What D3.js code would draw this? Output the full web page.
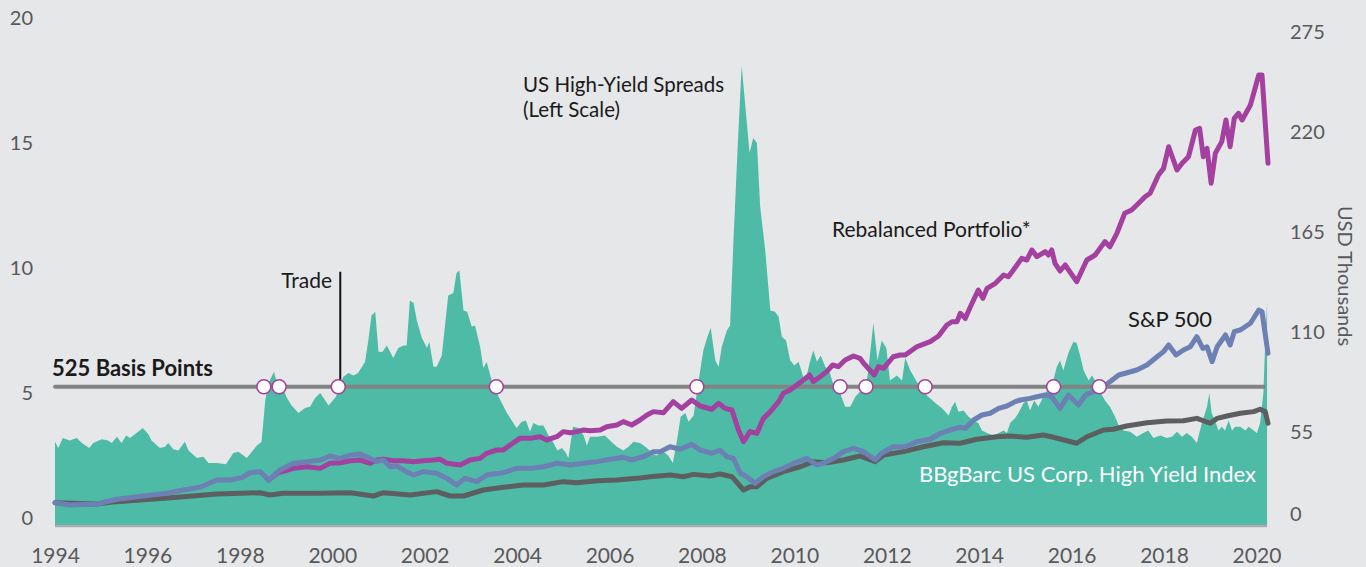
<!DOCTYPE html>
<html>
<head>
<meta charset="utf-8">
<script src="https://cdn.jsdelivr.net/npm/d3@7"></script>
<style>
  html, body { margin: 0; padding: 0; background: #e6e7e8; }
  svg { display: block; }
  text { font-family: Lato, "Open Sans", sans-serif; }
</style>
</head>
<body>
<svg id="chart" width="1366" height="567"></svg>
<script>
// ---- data ----
// US high-yield spreads, % (left scale) : [decimal year, value]
const spreads = [
  [1994.00,3.05],[1994.07,2.8],[1994.17,3.2],[1994.32,3.1],[1994.47,3.2],[1994.58,3.0],[1994.74,2.8],[1994.83,3.0],
  [1995.01,3.15],[1995.15,3.1],[1995.23,3.0],[1995.34,3.25],[1995.44,3.0],[1995.54,3.3],[1995.62,3.2],[1995.73,3.35],
  [1995.90,3.6],[1996.02,3.35],[1996.09,3.1],[1996.27,2.8],[1996.38,2.85],[1996.45,3.0],[1996.56,2.75],[1996.67,2.7],
  [1996.81,3.05],[1996.89,2.7],[1997.07,2.4],[1997.21,2.45],[1997.32,2.2],[1997.50,2.2],[1997.70,2.15],[1997.86,2.6],
  [1997.97,2.65],[1998.15,2.4],[1998.37,2.9],[1998.47,3.05],[1998.55,4.7],[1998.62,5.4],[1998.74,5.85],[1998.80,5.4],
  [1998.91,5.3],[1999.02,4.8],[1999.12,4.5],[1999.27,4.2],[1999.41,4.4],[1999.52,4.45],[1999.63,4.8],[1999.74,5.0],
  [1999.92,4.5],[2000.08,4.85],[2000.24,5.65],[2000.35,5.8],[2000.46,5.7],[2000.56,5.8],[2000.71,6.25],[2000.78,7.1],
  [2000.85,8.1],[2000.93,8.25],[2001.00,6.65],[2001.09,6.65],[2001.18,6.9],[2001.25,6.65],[2001.32,6.4],[2001.43,6.8],
  [2001.54,6.9],[2001.61,6.9],[2001.68,8.7],[2001.76,8.6],[2001.83,7.9],[2001.94,7.2],[2002.05,6.8],[2002.10,7.05],
  [2002.19,6.05],[2002.26,6.05],[2002.37,6.5],[2002.51,8.9],[2002.62,9.0],[2002.69,9.8],[2002.75,9.9],[2002.84,8.3],
  [2002.92,8.25],[2003.02,7.65],[2003.09,7.7],[2003.20,6.85],[2003.27,6.0],[2003.34,6.25],[2003.45,5.5],[2003.60,4.85],
  [2003.78,4.2],[2003.99,3.6],[2004.10,3.85],[2004.19,3.9],[2004.28,3.45],[2004.35,3.8],[2004.46,3.7],[2004.57,3.7],
  [2004.68,3.3],[2004.79,3.0],[2004.87,2.7],[2004.97,2.8],[2005.04,2.65],[2005.11,2.4],[2005.21,3.65],[2005.33,3.6],
  [2005.44,3.3],[2005.51,2.9],[2005.58,3.25],[2005.73,3.25],[2005.90,3.3],[2006.01,3.1],[2006.16,2.85],[2006.30,2.7],
  [2006.41,2.85],[2006.52,3.05],[2006.66,3.0],[2006.81,2.8],[2006.95,2.55],[2007.02,2.5],[2007.17,2.65],[2007.27,2.5],
  [2007.37,2.2],[2007.46,3.1],[2007.54,4.05],[2007.64,4.2],[2007.71,3.85],[2007.82,4.1],[2007.92,5.4],[2008.03,6.7],
  [2008.12,7.25],[2008.19,7.6],[2008.29,6.3],[2008.36,6.05],[2008.43,6.85],[2008.54,7.5],[2008.61,7.7],[2008.68,11.0],
  [2008.77,14.7],[2008.86,18.1],[2008.94,16.45],[2009.03,14.6],[2009.11,15.2],[2009.19,15.0],[2009.26,12.45],[2009.37,10.7],
  [2009.48,8.3],[2009.58,8.25],[2009.66,8.05],[2009.73,7.25],[2009.82,7.1],[2009.91,6.3],[2010.00,6.1],[2010.09,6.25],
  [2010.16,5.85],[2010.23,5.4],[2010.33,6.2],[2010.41,6.7],[2010.49,6.25],[2010.57,6.5],[2010.67,6.05],[2010.77,5.8],
  [2010.88,5.1],[2010.99,5.0],[2011.10,4.45],[2011.21,4.45],[2011.32,4.85],[2011.42,5.05],[2011.53,5.05],[2011.60,5.9],
  [2011.71,7.8],[2011.80,6.3],[2011.89,7.1],[2011.99,6.8],[2012.07,5.5],[2012.22,5.7],[2012.33,5.5],[2012.40,6.4],
  [2012.51,5.9],[2012.65,5.45],[2012.87,4.9],[2013.05,4.6],[2013.19,4.4],[2013.34,4.1],[2013.41,4.45],[2013.48,4.65],
  [2013.55,4.25],[2013.66,4.3],[2013.77,4.05],[2013.88,3.9],[2013.98,3.8],[2014.06,3.5],[2014.17,3.4],[2014.31,3.3],
  [2014.42,3.4],[2014.53,3.5],[2014.60,3.4],[2014.67,3.8],[2014.78,4.0],[2014.85,4.2],[2014.96,4.6],[2015.03,4.7],
  [2015.10,4.3],[2015.19,4.7],[2015.28,4.45],[2015.39,4.85],[2015.50,5.2],[2015.57,5.25],[2015.68,6.05],[2015.75,6.3],
  [2015.82,5.9],[2015.93,6.6],[2016.04,7.05],[2016.11,7.0],[2016.19,6.45],[2016.26,5.9],[2016.37,5.5],[2016.44,5.7],
  [2016.51,5.5],[2016.58,5.2],[2016.72,4.7],[2016.83,4.45],[2016.94,4.05],[2017.02,3.7],[2017.12,3.5],[2017.27,3.45],
  [2017.41,3.25],[2017.55,3.4],[2017.66,3.5],[2017.77,3.2],[2017.92,3.3],[2018.06,3.2],[2018.17,3.25],[2018.28,3.45],
  [2018.39,3.25],[2018.49,3.4],[2018.60,3.25],[2018.71,3.0],[2018.82,3.8],[2018.93,4.45],[2018.98,5.0],[2019.03,4.2],
  [2019.11,3.85],[2019.18,3.5],[2019.25,3.65],[2019.32,3.5],[2019.40,3.9],[2019.47,3.5],[2019.54,3.65],[2019.65,3.65],
  [2019.76,3.5],[2019.83,3.65],[2019.94,3.5],[2020.01,3.4],[2020.08,3.8],[2020.15,5.0],[2020.19,7.0],[2020.23,8.6]
];

// S&P 500 growth, USD thousands (right scale)
const sp500 = [
  [1994.00,16.1],[1994.32,14.85],[1994.90,15.4],[1995.34,18.0],[1995.91,19.8],[1996.42,21.3],[1996.78,23.1],[1997.14,24.6],
  [1997.50,28.6],[1997.79,28.6],[1998.04,29.9],[1998.22,32.6],[1998.44,33.2],[1998.62,28.6],[1998.87,34.1],[1999.16,37.8],
  [1999.45,38.7],[1999.74,39.6],[1999.95,41.8],[2000.17,40.5],[2000.39,42.35],[2000.60,42.9],[2000.82,40.5],[2000.96,38.7],
  [2001.11,39.6],[2001.25,35.9],[2001.40,36.3],[2001.61,33.2],[2001.76,31.35],[2001.97,33.2],[2002.26,32.3],[2002.48,29.5],
  [2002.69,25.85],[2002.87,29.5],[2003.13,27.7],[2003.34,31.35],[2003.70,32.6],[2003.99,35.0],[2004.28,35.0],[2004.57,35.9],
  [2004.86,37.8],[2005.15,36.85],[2005.44,37.8],[2005.73,38.7],[2006.01,40.0],[2006.30,41.1],[2006.48,39.6],[2006.73,41.4],
  [2006.95,44.2],[2007.10,44.2],[2007.31,46.9],[2007.53,45.5],[2007.78,48.2],[2007.96,45.1],[2008.21,43.3],[2008.39,45.1],
  [2008.54,41.4],[2008.68,40.5],[2008.83,32.3],[2008.97,30.4],[2009.15,26.8],[2009.33,30.4],[2009.55,33.2],[2009.76,35.0],
  [2009.98,37.8],[2010.27,40.5],[2010.49,36.85],[2010.63,37.8],[2010.85,40.5],[2011.06,44.2],[2011.28,46.0],[2011.50,44.2],
  [2011.75,39.6],[2011.89,43.3],[2012.14,46.9],[2012.40,46.9],[2012.65,49.7],[2012.94,51.0],[2013.16,54.3],[2013.37,56.1],
  [2013.59,57.6],[2013.70,57.0],[2013.88,61.6],[2014.06,64.35],[2014.24,65.3],[2014.42,68.0],[2014.60,69.3],[2014.78,71.7],
  [2014.89,72.6],[2015.10,73.5],[2015.25,74.4],[2015.43,75.35],[2015.57,74.4],[2015.75,68.0],[2015.93,75.35],[2016.15,69.85],
  [2016.30,75.35],[2016.47,77.2],[2016.66,79.0],[2016.83,82.7],[2017.02,86.35],[2017.20,87.6],[2017.41,89.1],[2017.63,91.85],
  [2017.85,96.4],[2017.99,99.2],[2018.10,102.85],[2018.26,97.35],[2018.42,100.1],[2018.57,101.9],[2018.71,107.4],[2018.84,101.0],
  [2018.93,101.9],[2019.04,93.7],[2019.15,101.9],[2019.33,108.35],[2019.43,102.85],[2019.52,110.2],[2019.65,111.1],[2019.87,114.8],
  [2020.05,122.1],[2020.12,121.2],[2020.25,98.3]
];

// Rebalanced portfolio, USD thousands (same as S&P 500 until the first trade)
const rebalanced = [
  [1998.62,28.6],[1998.83,32.6],[1999.16,35.0],[1999.45,35.9],[1999.74,35.0],[1999.95,37.8],[2000.17,38.1],[2000.39,39.2],
  [2000.60,39.6],[2000.82,37.8],[2000.96,39.6],[2001.11,40.0],[2001.32,39.2],[2001.54,39.2],[2001.76,38.7],[2001.97,39.2],
  [2002.19,39.6],[2002.33,40.0],[2002.48,37.8],[2002.77,36.85],[2002.98,39.6],[2003.20,40.5],[2003.34,43.3],[2003.56,45.1],
  [2003.70,45.1],[2003.85,47.85],[2004.06,51.5],[2004.28,51.5],[2004.50,52.4],[2004.64,50.6],[2004.86,52.4],[2005.00,55.2],
  [2005.15,54.6],[2005.29,55.2],[2005.44,56.1],[2005.58,55.7],[2005.80,56.1],[2005.94,57.9],[2006.16,58.85],[2006.30,60.7],
  [2006.48,58.85],[2006.66,61.6],[2006.81,64.35],[2006.95,66.2],[2007.17,65.6],[2007.38,71.7],[2007.56,68.0],[2007.78,72.6],
  [2007.96,69.3],[2008.21,67.5],[2008.36,70.8],[2008.50,68.0],[2008.65,67.1],[2008.79,56.1],[2008.90,49.7],[2009.04,55.2],
  [2009.19,54.3],[2009.33,62.5],[2009.48,66.2],[2009.66,71.7],[2009.76,76.3],[2009.91,78.1],[2010.05,80.85],[2010.20,83.6],
  [2010.33,86.35],[2010.41,82.7],[2010.56,85.4],[2010.70,88.2],[2010.83,91.85],[2010.95,90.9],[2011.10,94.6],[2011.28,96.8],
  [2011.42,95.5],[2011.50,92.8],[2011.73,86.35],[2011.82,90.9],[2011.93,90.0],[2012.14,96.4],[2012.29,97.35],[2012.40,97.35],
  [2012.65,101.9],[2012.94,104.7],[2013.12,107.8],[2013.30,113.85],[2013.41,115.65],[2013.52,115.65],[2013.59,120.3],[2013.70,117.5],
  [2013.81,123.9],[2013.98,133.1],[2014.08,128.5],[2014.17,134.0],[2014.35,136.8],[2014.53,141.35],[2014.63,140.4],[2014.74,144.1],
  [2014.92,150.5],[2015.03,149.6],[2015.14,155.1],[2015.25,151.4],[2015.43,154.2],[2015.50,152.35],[2015.57,155.1],[2015.64,147.8],
  [2015.75,143.55],[2015.86,146.85],[2016.11,137.7],[2016.33,149.6],[2016.51,152.35],[2016.72,159.7],[2016.83,156.9],[2016.98,164.3],
  [2017.15,175.3],[2017.30,177.1],[2017.45,180.8],[2017.59,184.4],[2017.70,186.3],[2017.88,196.35],[2017.99,200.0],[2018.10,211.9],
  [2018.28,199.1],[2018.39,202.8],[2018.53,206.4],[2018.68,221.1],[2018.77,222.0],[2018.85,206.4],[2018.93,211.0],[2019.02,191.8],
  [2019.11,208.3],[2019.25,214.7],[2019.34,226.6],[2019.43,211.9],[2019.52,227.5],[2019.61,230.3],[2019.69,226.6],[2019.87,234.85],
  [2020.05,251.35],[2020.12,251.35],[2020.25,202.8]
];

// BBgBarc US Corp. High Yield Index growth, USD thousands
const hyIndex = [
  [1994.00,16.1],[1994.90,15.4],[1995.34,16.7],[1996.06,18.0],[1996.78,19.4],[1997.50,20.9],[1998.44,21.6],[1998.65,20.35],
  [1998.94,21.3],[1999.66,21.3],[2000.39,21.6],[2000.89,19.8],[2001.11,21.6],[2001.68,20.35],[2002.26,22.2],[2002.55,19.8],
  [2002.84,19.8],[2003.27,23.1],[2003.70,24.6],[2004.14,25.85],[2004.57,25.85],[2005.00,27.7],[2005.29,27.1],[2005.73,28.2],
  [2006.16,28.6],[2006.59,29.5],[2006.88,30.4],[2007.31,31.35],[2007.60,30.4],[2007.82,31.7],[2008.18,30.8],[2008.39,31.9],
  [2008.65,30.4],[2008.90,23.1],[2009.04,24.9],[2009.19,24.9],[2009.40,29.5],[2009.76,33.2],[2010.13,35.9],[2010.41,38.7],
  [2010.70,38.1],[2011.06,39.6],[2011.42,41.8],[2011.75,38.7],[2011.93,42.35],[2012.36,44.2],[2012.79,46.9],[2013.23,49.1],
  [2013.59,48.8],[2013.95,51.0],[2014.38,52.4],[2014.67,52.8],[2015.03,52.1],[2015.39,53.35],[2015.61,52.1],[2015.75,51.15],
  [2016.11,48.8],[2016.33,52.4],[2016.69,56.1],[2016.90,56.5],[2017.19,58.3],[2017.63,60.1],[2018.06,61.05],[2018.42,61.2],
  [2018.71,62.5],[2019.00,59.8],[2019.15,62.5],[2019.36,63.8],[2019.65,65.3],[2019.94,66.2],[2020.08,67.5],[2020.19,66.2],
  [2020.25,59.8]
];

// trades: dates where spreads cross the 525 bp threshold
const threshold = 5.25;
const tradeDates = [1998.52, 1998.85, 2000.13, 2003.55, 2007.89, 2010.99, 2011.55, 2012.83, 2015.61, 2016.60];
const tradeLabelLevel = 9.85;

const xTicks = [1994, 1996, 1998, 2000, 2002, 2004, 2006, 2008, 2010, 2012, 2014, 2016, 2018, 2020];
const leftTicks = [0, 5, 10, 15, 20];
const rightTicks = [0, 55, 110, 165, 220, 275];

// ---- chart ----
const W = 1366, H = 567;
const svg = d3.select("#chart");

const x = d3.scaleLinear().domain([1994, 2020.25]).range([55, 1268]);
const yL = d3.scaleLinear().domain([0, 20]).range([518, 18]);
const yR = d3.scaleLinear().domain([0, 275]).range([532, 32]);
const baseY = yL(0) + 8;   // area sits on the axis line, a little under zero

const teal = "#4dbba6", magenta = "#a4409f", blue = "#6d80b4", dark = "#5d5e60";
const tickColor = "#58595b";

svg.append("rect").attr("width", W).attr("height", H).attr("fill", "#e6e7e8");

// spreads area
const area = d3.area()
  .x(d => x(d[0]))
  .y0(baseY)
  .y1(d => yL(d[1]));
svg.append("path").datum(spreads).attr("d", area).attr("fill", teal);

// bottom axis line
svg.append("line")
  .attr("x1", x(spreads[0][0])).attr("x2", x(spreads[spreads.length - 1][0]))
  .attr("y1", baseY).attr("y2", baseY)
  .attr("stroke", "#a9abae").attr("stroke-width", 2.5);

// 525 bp threshold
svg.append("line")
  .attr("x1", x(spreads[0][0])).attr("x2", x(2020.15))
  .attr("y1", yL(threshold)).attr("y2", yL(threshold))
  .attr("stroke", "#838384").attr("stroke-width", 4).attr("stroke-linecap", "round");

// growth lines
const line = d3.line().x(d => x(d[0])).y(d => yR(d[1]));
[[hyIndex, dark], [rebalanced, magenta], [sp500, blue]].forEach(([data, color]) => {
  svg.append("path").datum(data)
    .attr("d", line)
    .attr("fill", "none")
    .attr("stroke", color)
    .attr("stroke-width", 5)
    .attr("stroke-linejoin", "round")
    .attr("stroke-linecap", "round");
});

// trade marker line
svg.append("line")
  .attr("x1", x(tradeDates[2]) + 2).attr("x2", x(tradeDates[2]) + 2)
  .attr("y1", yL(tradeLabelLevel)).attr("y2", yL(threshold) - 6)
  .attr("stroke", "#111").attr("stroke-width", 2);

// trade circles
svg.selectAll("circle.trade").data(tradeDates).join("circle")
  .attr("class", "trade")
  .attr("cx", d => x(d))
  .attr("cy", yL(threshold))
  .attr("r", 7)
  .attr("fill", "#fff")
  .attr("stroke", magenta)
  .attr("stroke-width", 1.5);

// axes
const gL = svg.append("g").attr("transform", "translate(33,0)")
  .call(d3.axisLeft(yL).tickValues(leftTicks).tickSize(0).tickPadding(0));
const gR = svg.append("g").attr("transform", "translate(1290,0)")
  .call(d3.axisRight(yR).tickValues(rightTicks).tickSize(0).tickPadding(0));
gR.selectAll(".tick").filter(d => d === 0).attr("transform", `translate(0,${yR(0) - 17})`);
const gB = svg.append("g").attr("transform", "translate(0,548)")
  .call(d3.axisBottom(x).tickValues(xTicks).tickFormat(d3.format("d")).tickSize(0).tickPadding(0));

[gL, gR, gB].forEach(g => {
  g.select(".domain").remove();
  g.selectAll("text")
    .attr("fill", tickColor)
    .style("font-family", "Lato, 'Open Sans', sans-serif")
    .style("font-size", "20px");
});
gB.selectAll("text").style("font-size", "21px");

// annotations
function label(txt, lx, ly, opts = {}) {
  return svg.append("text")
    .attr("x", lx).attr("y", ly)
    .attr("text-anchor", opts.anchor || "start")
    .attr("fill", opts.fill || "#1a1a1a")
    .style("font-size", (opts.size || 21) + "px")
    .style("font-weight", opts.weight || 400)
    .text(txt);
}
label("525 Basis Points", 52, 376, { size: 22, weight: 700 });
label("Trade", 332, 288, { anchor: "end" });
label("US High-Yield Spreads", 523, 92, { size: 20.5 });
label("(Left Scale)", 523, 117, { size: 20.5 });
label("Rebalanced Portfolio*", 832, 237);
label("S&P 500", 1128, 327, { size: 22 });
label("BBgBarc US Corp. High Yield Index", 1256, 482, { anchor: "end", fill: "#ffffff", size: 22 });

svg.append("text")
  .attr("transform", "translate(1338,276) rotate(90)")
  .attr("text-anchor", "middle")
  .attr("fill", tickColor)
  .style("font-size", "20px")
  .text("USD Thousands");
</script>
</body>
</html>
